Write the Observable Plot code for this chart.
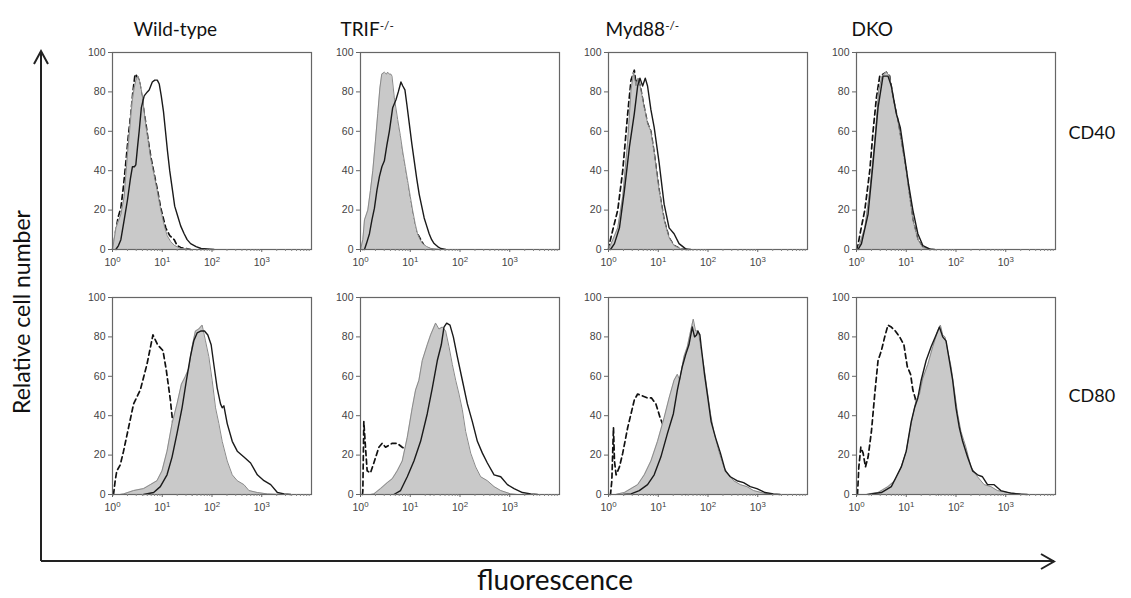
<!DOCTYPE html>
<html><head><meta charset="utf-8">
<script src="https://cdn.jsdelivr.net/npm/d3@7"></script>
<script src="https://cdn.jsdelivr.net/npm/@observablehq/plot@0.6"></script>
<style>body{margin:0;background:#fff;} svg{display:block}</style>
</head><body><div id="chart"></div>
<script>
// Categories
const genotypes = ["Wild-type", "TRIF", "Myd88", "DKO"];
const superscripts = {"TRIF": "-/-", "Myd88": "-/-"};
const markers = ["CD40", "CD80"];
const decadeTicks = [1, 10, 100, 1000];
const decadeLabels = ["10^0", "10^1", "10^2", "10^3"];
const yTicks = [0, 20, 40, 60, 80, 100];

// Histogram curves: [log10 fluorescence, % of max]
const wt_cd40_fill = [[0,0],[0.07,11],[0.17,18],[0.235,27],[0.268,38],[0.3,48],[0.335,58],[0.37,68],[0.4,76],[0.436,82],[0.47,86],[0.516,88],[0.55,85],[0.6,78],[0.67,63],[0.77,46],[0.85,36],[0.905,29],[0.97,20],[1.04,12],[1.1,7],[1.17,4],[1.25,2],[1.37,0.5],[1.57,0]];
const wt_cd40_solid = [[0.067,0],[0.12,2],[0.168,5],[0.235,15],[0.3,25],[0.36,36],[0.4,42],[0.44,42],[0.469,43],[0.503,52],[0.536,60],[0.58,72],[0.637,78],[0.7,80],[0.737,81],[0.8,85],[0.85,86],[0.9,86],[0.94,84],[0.98,78],[1.025,70],[1.065,60],[1.105,50],[1.15,40],[1.206,30],[1.25,22],[1.31,17],[1.37,12],[1.44,8],[1.5,5],[1.57,3],[1.68,1.5],[1.78,0.5],[2.04,0]];
const wt_cd40_dash = [[0,0],[0.03,3],[0.067,10],[0.12,17],[0.168,21],[0.22,32],[0.268,44],[0.32,58],[0.369,69],[0.41,80],[0.449,88],[0.47,89],[0.503,87],[0.536,86],[0.57,81],[0.62,72],[0.67,64],[0.72,55],[0.77,47],[0.84,38],[0.905,30],[0.97,21],[1.07,11],[1.15,7],[1.24,5],[1.3,2],[1.37,1],[1.57,0]];

const trif_cd40_fill = [[0,0],[0.047,5],[0.08,15],[0.147,20],[0.2,30],[0.247,40],[0.3,55],[0.347,69],[0.39,82],[0.427,89],[0.48,90],[0.52,89],[0.547,90],[0.58,89],[0.613,89],[0.633,88],[0.68,77],[0.747,66],[0.8,58],[0.847,50],[0.9,42],[0.947,35],[1.0,27],[1.047,20],[1.1,13],[1.147,8],[1.2,5],[1.247,3],[1.33,1.5],[1.413,0.5],[1.613,0]];
const trif_cd40_solid = [[0.08,0],[0.12,3],[0.18,8],[0.23,15],[0.28,21],[0.33,30],[0.38,37],[0.43,42],[0.48,45],[0.53,53],[0.58,60],[0.647,72],[0.713,76],[0.76,80],[0.813,85],[0.85,83],[0.893,81],[0.93,74],[0.98,64],[1.03,54],[1.08,45],[1.13,36],[1.18,28],[1.23,22],[1.28,16],[1.33,12],[1.38,8],[1.43,5],[1.48,3],[1.55,1.5],[1.613,0.5],[1.713,0]];
const trif_cd40_dash = [[0.05,0],[0.1,10],[0.2,22],[0.3,45],[0.4,80],[0.5,86],[0.6,84],[0.7,68],[0.9,38],[1.1,10],[1.3,1],[1.45,0]];

const myd_cd40_fill = [[0,0],[0.087,5],[0.186,11],[0.286,27],[0.386,55],[0.453,81],[0.506,90],[0.552,83],[0.599,87],[0.652,81],[0.719,72],[0.785,64],[0.852,60],[0.918,49],[1.018,30],[1.118,15],[1.218,6],[1.318,2],[1.451,0.3],[1.6,0]];
const myd_cd40_solid = [[0.04,0],[0.12,3],[0.22,11],[0.32,30],[0.42,52],[0.519,69],[0.586,83],[0.632,87],[0.686,83],[0.739,87],[0.785,83],[0.852,71],[0.918,62],[1.018,44],[1.118,23],[1.218,11],[1.318,8],[1.418,3],[1.551,0.3],[1.65,0]];
const myd_cd40_dash = [[0,0],[0.02,3],[0.087,10],[0.186,20],[0.286,40],[0.386,69],[0.453,86],[0.519,91],[0.552,84],[0.599,87],[0.652,81],[0.719,72],[0.785,64],[0.852,60],[0.918,49],[1.018,30],[1.118,15],[1.218,6],[1.318,2],[1.451,0.3],[1.6,0]];

const dko_cd40_fill = [[0.033,0],[0.067,3],[0.167,11],[0.267,30],[0.367,55],[0.447,81],[0.513,88],[0.6,90],[0.667,88],[0.733,77],[0.82,67],[0.9,55],[1.0,40],[1.067,27],[1.133,15],[1.233,5],[1.333,1],[1.5,0]];
const dko_cd40_solid = [[0.033,0],[0.1,3],[0.233,18],[0.333,44],[0.433,72],[0.533,88],[0.633,88],[0.7,83],[0.8,69],[0.88,62],[0.967,47],[1.047,33],[1.133,20],[1.233,8],[1.333,2],[1.467,0.3],[1.567,0]];
const dko_cd40_dash = [[0,0],[0.02,1],[0.087,10],[0.167,20],[0.267,40],[0.333,60],[0.4,77],[0.467,88],[0.533,89],[0.6,90],[0.667,88],[0.733,77],[0.82,67],[0.9,55],[1.0,40],[1.067,27],[1.133,15],[1.233,5],[1.333,1],[1.5,0]];

const wt_cd80_fill = [[0.15,0],[0.222,0.3],[0.424,2],[0.625,3],[0.76,5],[0.894,7],[0.995,12],[1.096,22],[1.197,36],[1.297,46],[1.385,56],[1.466,60],[1.533,64],[1.6,75],[1.667,83],[1.734,84],[1.802,86],[1.869,78],[1.936,70],[2.003,58],[2.071,44],[2.138,36],[2.205,27],[2.306,17],[2.407,10],[2.508,7],[2.642,5],[2.743,2],[2.911,1],[3.113,0.3],[3.382,0]];
const wt_cd80_solid = [[0.625,0],[0.827,1],[0.961,4],[1.096,10],[1.197,19],[1.297,31],[1.398,44],[1.486,58],[1.566,70],[1.634,78],[1.701,82],[1.782,83],[1.849,83],[1.916,81],[1.983,76],[2.037,66],[2.104,54],[2.171,46],[2.205,44],[2.239,45],[2.306,36],[2.407,27],[2.508,22],[2.642,19],[2.776,16],[2.911,10],[3.045,7],[3.18,5],[3.314,1],[3.449,0.3],[3.583,0]];
const wt_cd80_dash = [[0.02,0],[0.054,7],[0.087,12],[0.155,15],[0.222,22],[0.323,34],[0.424,46],[0.558,53],[0.692,66],[0.813,81],[0.908,76],[1.015,73],[1.082,63],[1.163,48],[1.23,32],[1.3,18],[1.4,8],[1.5,3],[1.6,0]];

const trif_cd80_fill = [[0.2,0],[0.268,0.3],[0.403,3],[0.537,6],[0.638,8],[0.738,12],[0.839,17],[0.94,29],[1.04,44],[1.107,53],[1.174,58],[1.242,68],[1.342,76],[1.409,81],[1.51,87],[1.577,84],[1.644,85],[1.711,83],[1.779,75],[1.846,66],[1.913,58],[1.98,51],[2.047,43],[2.114,32],[2.215,21],[2.315,14],[2.416,9],[2.55,7],[2.685,4],[2.819,2],[3.02,0.3],[3.154,0]];
const trif_cd80_solid = [[0.671,0],[0.805,2],[0.94,9],[1.074,17],[1.208,27],[1.342,41],[1.443,54],[1.544,68],[1.624,76],[1.678,85],[1.732,87],[1.799,86],[1.866,80],[1.946,70],[2.047,58],[2.148,46],[2.248,37],[2.349,27],[2.45,21],[2.55,16],[2.685,10],[2.819,9],[2.953,5],[3.087,3],[3.255,1],[3.423,0.3],[3.557,0]];
const trif_cd80_dash = [[0.04,0],[0.047,2],[0.067,37],[0.1,24],[0.134,12],[0.201,11],[0.268,16],[0.369,24],[0.436,26],[0.503,24],[0.57,25],[0.638,26],[0.738,26],[0.839,24],[0.906,23],[1.0,18],[1.1,10],[1.2,4],[1.3,1],[1.4,0]];

const myd_cd80_fill = [[0.15,0],[0.186,0.3],[0.319,1],[0.453,3],[0.586,5],[0.719,10],[0.852,17],[0.985,27],[1.118,39],[1.218,49],[1.318,58],[1.384,61],[1.431,58],[1.517,70],[1.584,75],[1.651,83],[1.704,89],[1.75,83],[1.804,83],[1.85,75],[1.917,65],[1.983,53],[2.05,41],[2.116,32],[2.216,22],[2.316,14],[2.416,10],[2.516,7],[2.649,5],[2.782,4],[2.915,2],[3.115,0.7],[3.314,0]];
const myd_cd80_solid = [[0.3,0],[0.453,0.3],[0.619,2],[0.785,5],[0.918,10],[1.052,19],[1.185,31],[1.304,41],[1.384,53],[1.484,65],[1.551,71],[1.617,76],[1.684,85],[1.73,80],[1.77,81],[1.797,83],[1.837,81],[1.864,75],[1.93,61],[1.997,49],[2.063,37],[2.15,29],[2.25,21],[2.349,12],[2.449,9],[2.582,7],[2.715,6],[2.849,4],[2.982,3],[3.148,1],[3.314,0.3],[3.448,0]];
const myd_cd80_dash = [[0.03,0],[0.04,0],[0.067,7],[0.1,34],[0.12,17],[0.153,10],[0.22,14],[0.286,21],[0.386,34],[0.453,41],[0.519,48],[0.586,51],[0.686,50],[0.785,49],[0.865,49],[0.952,46],[1.038,39],[1.085,36],[1.15,28],[1.25,15],[1.35,5],[1.45,1],[1.55,0]];

const dko_cd80_fill = [[0.2,0],[0.233,0.3],[0.433,1],[0.633,4],[0.767,7],[0.9,14],[1.0,22],[1.1,36],[1.2,48],[1.267,51],[1.333,59],[1.433,66],[1.533,75],[1.633,83],[1.687,86],[1.733,81],[1.78,80],[1.833,73],[1.9,65],[1.967,53],[2.033,41],[2.1,32],[2.2,24],[2.3,14],[2.433,9],[2.567,5],[2.7,4],[2.833,2],[3.033,1],[3.3,0.3],[3.433,0]];
const dko_cd80_solid = [[0.25,0],[0.3,0.3],[0.5,1],[0.7,4],[0.8,9],[0.9,14],[1.0,22],[1.1,37],[1.167,44],[1.233,49],[1.3,58],[1.4,68],[1.5,75],[1.6,81],[1.667,85],[1.733,80],[1.8,78],[1.867,68],[1.933,58],[2.0,44],[2.067,34],[2.133,27],[2.233,19],[2.333,12],[2.433,10],[2.533,9],[2.633,5],[2.767,5],[2.9,2],[3.1,0.7],[3.3,0.2],[3.433,0]];
const dko_cd80_dash = [[0.02,0],[0.047,14],[0.087,24],[0.133,21],[0.18,14],[0.233,19],[0.3,32],[0.367,51],[0.433,68],[0.5,73],[0.567,80],[0.633,86],[0.7,85],[0.78,83],[0.867,80],[0.953,76],[1.02,65],[1.087,61],[1.133,53],[1.18,49],[1.25,35],[1.35,20],[1.45,8],[1.55,2],[1.65,0]];

const panels = [
  ["Wild-type", "CD40", wt_cd40_fill, wt_cd40_solid, wt_cd40_dash],
  ["TRIF", "CD40", trif_cd40_fill, trif_cd40_solid, trif_cd40_dash],
  ["Myd88", "CD40", myd_cd40_fill, myd_cd40_solid, myd_cd40_dash],
  ["DKO", "CD40", dko_cd40_fill, dko_cd40_solid, dko_cd40_dash],
  ["Wild-type", "CD80", wt_cd80_fill, wt_cd80_solid, wt_cd80_dash],
  ["TRIF", "CD80", trif_cd80_fill, trif_cd80_solid, trif_cd80_dash],
  ["Myd88", "CD80", myd_cd80_fill, myd_cd80_solid, myd_cd80_dash],
  ["DKO", "CD80", dko_cd80_fill, dko_cd80_solid, dko_cd80_dash]
];

const rows = [];
for (const [g, m, fill, solid, dash] of panels) {
  for (const [s, arr] of [["fill", fill], ["solid", solid], ["dash", dash]]) {
    for (const [e, y] of arr) rows.push({g, m, s, x: Math.pow(10, e), y});
  }
}
const minorTicks = [];
for (const d of decadeTicks) for (let k = 2; k <= 9; k++) minorTicks.push(d * k);

const titleDx = [21, -20, -3, -5];
const rowDy = [-18, 0];
const titleFont = "Lato, 'Open Sans', sans-serif";

const enc = {x: "x", y: "y", fx: "g", fy: "m"};
const plot = Plot.plot({
  width: 1131, height: 598,
  marginLeft: 112, marginRight: 76, marginTop: 52, marginBottom: 104,
  style: {fontFamily: "'Liberation Sans', Arial, sans-serif", fontSize: "10px", color: "#444", background: "#fff"},
  fx: {domain: genotypes, padding: 0.198, axis: null},
  fy: {domain: markers, padding: 0.196, axis: null},
  x: {type: "log", domain: [1, 10000], label: null},
  y: {domain: [0, 100], label: null},
  marks: [
    Plot.line(rows.filter(d => d.s === "dash"), {...enc, stroke: "#111", strokeWidth: 1.7, strokeDasharray: "5,3.5"}),
    Plot.areaY(rows.filter(d => d.s === "fill"), {...enc, fill: "#c9c9c9"}),
    Plot.line(rows.filter(d => d.s === "fill"), {...enc, stroke: "#8a8a8a", strokeWidth: 1}),
    Plot.line(rows.filter(d => d.s === "solid"), {...enc, stroke: "#1a1a1a", strokeWidth: 1.4}),
    Plot.frame({stroke: "#666", strokeWidth: 1.2}),
    Plot.axisY({ticks: yTicks, tickSize: 4, tickPadding: 3, facetAnchor: null, label: null, stroke: "#666"}),
    Plot.axisX({ticks: decadeTicks, tickFormat: d => decadeLabels[decadeTicks.indexOf(d)], tickSize: 3, tickPadding: 6, facetAnchor: null, label: null, stroke: "#666"}),
    Plot.axisX({ticks: minorTicks, tickFormat: () => "", tickSize: 2, facetAnchor: null, label: null, stroke: "#888"}),
    ...genotypes.map((g, i) => Plot.text([g], {
      fx: () => g, fy: () => "CD40", text: d => d,
      frameAnchor: "top-left", textAnchor: "start", dx: titleDx[i], dy: -30,
      fontSize: 19, fontFamily: titleFont, fill: "#111"
    })),
    ...markers.map((m, i) => Plot.text([m], {
      fx: () => "DKO", fy: () => m, text: d => d,
      frameAnchor: "right", textAnchor: "start", dx: 13, dy: rowDy[i],
      fontSize: 18, fontFamily: titleFont, fill: "#111"
    }))
  ]
});

document.getElementById("chart").appendChild(plot);
const svg = d3.select(plot);

// superscripts on genotype titles and decade tick labels; tick label size
svg.selectAll("text").each(function() {
  const t = this.textContent;
  const sel = d3.select(this);
  if (superscripts[t]) {
    sel.append("tspan").attr("dy", "-0.5em").attr("font-size", "0.62em").text(superscripts[t]);
    return;
  }
  if (/^(0|20|40|60|80|100)$/.test(t)) {
    sel.style("font-size", "10.5px").attr("fill", "#444");
    return;
  }
  const m = /^10\^(\d)$/.exec(t);
  if (m) {
    this.textContent = "10";
    sel.style("font-size", "10.5px").attr("fill", "#444");
    sel.append("tspan").attr("dy", "-0.45em").attr("font-size", "0.75em").text(m[1]);
  }
});

// outer axis arrows and labels
const ink = "#222";
const deco = svg.append("g").attr("stroke", ink).attr("stroke-width", 2).attr("fill", "none");
deco.append("path").attr("d", "M41,561V51M34,64L41,51L48,64");
deco.append("path").attr("d", "M41,561H1054M1041,554L1054,561.5L1041,569");
svg.append("text").attr("transform", "translate(24,312) rotate(-90)")
  .attr("text-anchor", "middle").attr("dominant-baseline", "middle")
  .attr("font-family", titleFont).attr("font-size", 23).attr("fill", "#111")
  .text("Relative cell number");
svg.append("text").attr("x", 555).attr("y", 583)
  .attr("text-anchor", "middle").attr("dominant-baseline", "middle")
  .attr("font-family", titleFont).attr("font-size", 28).attr("fill", "#111")
  .text("fluorescence");
</script>
</body></html>
